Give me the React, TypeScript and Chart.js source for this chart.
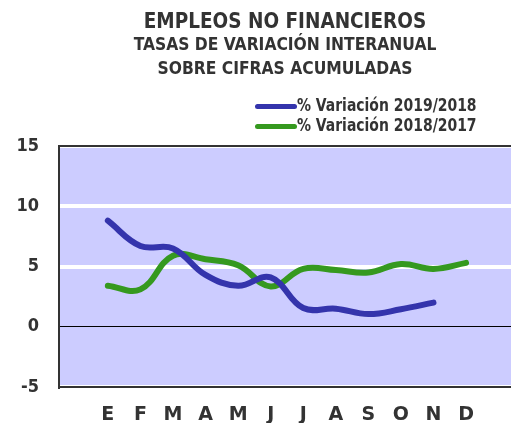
import { useEffect, useRef } from 'react';
import { Chart, registerables } from 'chart.js';

Chart.register(...registerables);

const months = ['E', 'F', 'M', 'A', 'M', 'J', 'J', 'A', 'S', 'O', 'N', 'D'];
const series2019 = [8.8, 6.7, 6.5, 4.3, 3.4, 4.1, 1.55, 1.5, 1.05, 1.45, 2.0];
const series2018 = [3.4, 3.1, 5.9, 5.6, 5.1, 3.35, 4.8, 4.7, 4.5, 5.2, 4.8, 5.3];
const yTicks = [-5, 0, 5, 10, 15];
const seriesLabels = ['% Variación 2019/2018', '% Variación 2018/2017'];
const titleText = 'EMPLEOS NO FINANCIEROS';
const subtitleLines = ['TASAS DE VARIACIÓN INTERANUAL', 'SOBRE CIFRAS ACUMULADAS'];

const NARROW = "'Liberation Sans Narrow', 'DejaVu Sans Condensed', sans-serif";
const HEAVY = "'DejaVu Sans', sans-serif";
const TEXT = '#333333';
const BLUE = '#3434AC';
const GREEN = '#35991F';

const plotBackground = {
  id: 'plotBackground',
  beforeDraw(chart: any) {
    const { ctx, chartArea } = chart;
    ctx.save();
    ctx.fillStyle = '#CCCCFF';
    ctx.fillRect(chartArea.left, chartArea.top, chartArea.right - chartArea.left, chartArea.bottom - chartArea.top);
    ctx.restore();
  },
};

const sideLegend = {
  id: 'sideLegend',
  afterDraw(chart: any) {
    const ctx = chart.ctx;
    ctx.save();
    chart.data.datasets.forEach((ds: any, i: number) => {
      const y = 106.5 + i * 20;
      ctx.strokeStyle = ds.borderColor;
      ctx.lineWidth = 5;
      ctx.lineCap = 'round';
      ctx.beginPath();
      ctx.moveTo(257.5, y);
      ctx.lineTo(294.5, y);
      ctx.stroke();
      ctx.font = `bold 16px ${NARROW}`;
      ctx.fillStyle = TEXT;
      ctx.textAlign = 'left';
      ctx.textBaseline = 'middle';
      ctx.save();
      ctx.translate(297, y);
      ctx.scale(0.97, 1.05);
      ctx.fillText(ds.label, 0, 0);
      ctx.restore();
    });
    ctx.restore();
  },
};

export default function App() {
  const canvasRef = useRef<HTMLCanvasElement | null>(null);

  useEffect(() => {
    if (!canvasRef.current) return;
    const chart = new Chart(canvasRef.current, {
      type: 'line',
      data: {
        datasets: [
          {
            label: seriesLabels[0],
            data: series2019.map((v, i) => ({ x: i, y: v })),
            borderColor: BLUE,
            backgroundColor: BLUE,
            borderWidth: 6,
            tension: 0.4,
            pointRadius: 0,
            borderCapStyle: 'round',
            borderJoinStyle: 'round',
            fill: false,
          },
          {
            label: seriesLabels[1],
            data: series2018.map((v, i) => ({ x: i, y: v })),
            borderColor: GREEN,
            backgroundColor: GREEN,
            borderWidth: 6,
            tension: 0.4,
            pointRadius: 0,
            borderCapStyle: 'round',
            borderJoinStyle: 'round',
            fill: false,
          },
        ],
      },
      options: {
        animation: false,
        responsive: false,
        layout: { padding: 0 },
        plugins: {
          legend: { display: false },
          tooltip: { enabled: false },
          title: {
            display: true,
            text: titleText,
            fullSize: false,
            color: TEXT,
            font: { family: NARROW, size: 20.5, weight: 'bold', lineHeight: '23px' },
            padding: { top: 11, bottom: 0 },
          },
          subtitle: {
            display: true,
            text: subtitleLines,
            fullSize: false,
            color: TEXT,
            font: { family: NARROW, size: 17.3, weight: 'bold', lineHeight: '24px' },
            padding: { top: 0, bottom: 64 },
          },
        },
        scales: {
          x: {
            type: 'linear',
            position: 'bottom',
            min: -1.5,
            max: 12.38,
            afterBuildTicks: (axis: any) => {
              axis.ticks = months.map((_, i) => ({ value: i }));
            },
            afterFit: (axis: any) => {
              axis.height = 36;
            },
            grid: { display: false, drawTicks: false },
            border: { display: true, color: TEXT, width: 2, z: 1 },
            ticks: {
              autoSkip: false,
              maxRotation: 0,
              padding: 17,
              color: TEXT,
              font: { family: HEAVY, size: 19, weight: 'bold' },
              callback: (v: any) => months[v as number] ?? '',
            },
          },
          xTop: {
            type: 'linear',
            position: 'top',
            min: -1.5,
            max: 12.38,
            afterFit: (axis: any) => {
              axis.height = 0;
            },
            grid: { display: false, drawTicks: false },
            border: { display: true, color: TEXT, width: 2, z: 1 },
            ticks: { display: false },
          },
          y: {
            min: -5,
            max: 15,
            afterBuildTicks: (axis: any) => {
              axis.ticks = yTicks.map((v) => ({ value: v }));
            },
            afterFit: (axis: any) => {
              axis.width = 59;
            },
            grid: {
              drawTicks: false,
              color: (c: any) => (c.tick && c.tick.value === 0 ? '#000000' : '#FFFFFF'),
              lineWidth: (c: any) => (c.tick && c.tick.value === 0 ? 1 : 4),
            },
            border: { display: true, color: TEXT, width: 2, z: 1 },
            ticks: {
              padding: 20,
              color: TEXT,
              font: { family: NARROW, size: 18, weight: 'bold' },
            },
          },
        },
      },
      plugins: [plotBackground, sideLegend],
    } as any);
    return () => chart.destroy();
  }, []);

  return (
    <canvas
      ref={canvasRef}
      width={511}
      height={423}
      style={{ position: 'absolute', left: 0, top: 0, width: 511, height: 423 }}
    />
  );
}
